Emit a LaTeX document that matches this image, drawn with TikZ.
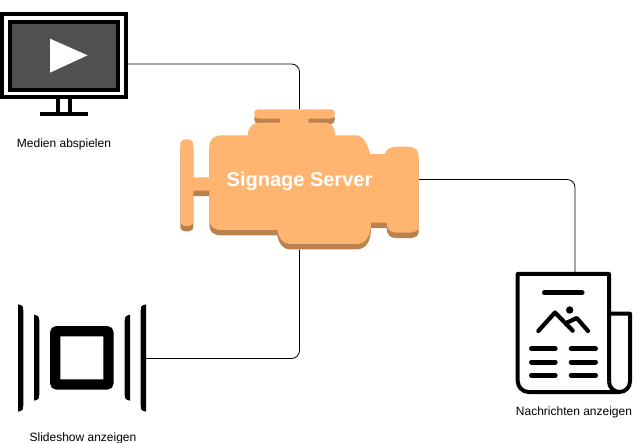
\documentclass[tikz,border=0pt]{standalone}
\usepackage{fontspec}
\setmainfont{Liberation Sans}
\definecolor{engine}{HTML}{FFB570}
\definecolor{engineshade}{HTML}{B9824F}
\definecolor{screen}{HTML}{505050}
\tikzset{
  label/.style={font=\fontsize{12}{14}\selectfont,inner sep=0pt},
  icon/.style={inner sep=0pt,minimum width=#1},
  link/.style={draw=black,line width=0.8pt,rounded corners=8pt},
  heavy/.style={draw=black,line width=4pt},
  rule/.style={draw=black,line width=5pt,line cap=round},
  ridge/.style={draw=black,line width=4.2pt,line cap=round,line join=round}
}
% outline of the server
\newcommand{\serverbody}{
  (180.3,144) arc[start angle=180,end angle=360,x radius=6.5,y radius=4.7] -- (193.3,177.3) -- (209.3,177.3)
  -- (209.3,147) .. controls (209.3,139) and (214,135.3) .. (222,135.3) -- (248,135.3)
  .. controls (248,127) and (252,122.7) .. (262,122.7) -- (280,122.7) -- (280,118.7) -- (260,118.7)
  .. controls (255,118.7) and (254.3,116) .. (254.3,113.5) .. controls (254.3,110) and (256,109.3) .. (260,109.3)
  -- (329,109.3) .. controls (334,109.3) and (335,111) .. (335,113.5) .. controls (335,116) and (334,118.7) .. (329,118.7)
  -- (308.7,118.7) -- (308.7,122.7) -- (325,122.7) .. controls (332,122.7) and (335,127) .. (335,135.3)
  -- (358,135.3) .. controls (364,137) and (368,145) .. (370,154) -- (385,154)
  .. controls (386,149) and (391,146.7) .. (397,146.7) -- (408,146.7)
  .. controls (415,146.7) and (418.7,150) .. (418.7,156) -- (418.7,226.7)
  .. controls (418.7,231) and (414,232.7) .. (408,232.7) -- (397,232.7)
  .. controls (390,232.7) and (386.7,229) .. (386.7,222.7) -- (371,222.7)
  .. controls (371,236) and (366,244) .. (356,244) -- (290,244)
  .. controls (283,244) and (279,238) .. (277.3,230) -- (222,230)
  .. controls (213,230) and (209.3,226) .. (209.3,219) -- (209.3,190.7) -- (193.3,190.7) -- (193.3,222)
  arc[start angle=0,end angle=180,x radius=6.5,y radius=4] -- cycle
}
\begin{document}
\begin{tikzpicture}[x=1pt,y=-1pt]
\useasboundingbox (0,0) rectangle (639,443);
% anchors for the connectors
\coordinate (monitorport) at (128,64);
\node[icon=128pt,minimum height=107pt] (slideshow) at (82,358.5) {};
\node[icon=115pt,minimum height=120pt] (paper) at (575,332.5) {};
\node[icon=238.4pt,minimum height=140pt] (server) at (299.5,179.5) {};
% connectors
\draw[link] (monitorport) -| (server.north);
\draw[link] (slideshow.east) -| (server.south);
\draw[link] (server.east) -| (paper.north);
% server
\fill[engineshade,shift={(0,5.5)}] \serverbody;
\fill[engine] \serverbody;
\node[font=\bfseries\fontsize{20}{24}\selectfont,text=white,inner sep=0pt] (servertext) at (299.5,181) {Signage Server};
% monitor
\draw[heavy] (2,14) rectangle (126,97);
\draw[heavy,fill=screen] (10,22) rectangle (118,90);
\fill[white] (50,38.7) -- (87.5,55.3) -- (50,72.7) -- cycle;
\fill (56,99) rectangle (60,112);
\fill (68,99) rectangle (72,112);
\fill (40,112) rectangle (88,116);
\node[label] (monitortext) at (64,144) {Medien abspielen};
% slideshow
\draw[draw=black,line width=10.3pt,rounded corners=2pt] (55.2,331.2) rectangle (108.5,384.5);
\foreach \xa/\xb/\ya/\yb in {18/23.3/304.3/411.7,34/39.3/314.7/400.7,130/124.7/314.7/400.7,146/140.7/304.3/411.7}
  \fill (\xa,\ya) .. controls (\xb,\ya+1) and (\xb,\ya+3) .. (\xb,\ya+6) -- (\xb,\yb-6)
    .. controls (\xb,\yb-3) and (\xb,\yb-1) .. (\xa,\yb) -- cycle;
\node[label] (slideshowtext) at (83,438) {Slideshow anzeigen};
% newspaper
\draw[heavy,line join=round] (609,381.5) -- (609,274) -- (517.7,274) -- (517.7,381)
  arc[start angle=180,end angle=90,radius=11] -- (619.5,392)
  arc[start angle=90,end angle=0,radius=10.5] -- (630,313.7) -- (609,313.7);
\draw[heavy] (609,381.5) arc[start angle=180,end angle=90,radius=10.5];
\draw[rule] (544.5,292.7) -- (582,292.7);
\draw[ridge] (538.3,331) -- (555,312.5) -- (572.7,330.7);
\draw[ridge] (565.7,323.3) -- (576.7,318) -- (588,331);
\fill (569.7,310) circle (3.7);
\foreach \y in {348.7,362,375.3}{
  \draw[rule] (531.5,\y) -- (555.2,\y);
  \draw[rule] (571.2,\y) -- (595.5,\y);
}
\node[label] (papertext) at (574,412) {Nachrichten anzeigen};
\end{tikzpicture}
\end{document}
